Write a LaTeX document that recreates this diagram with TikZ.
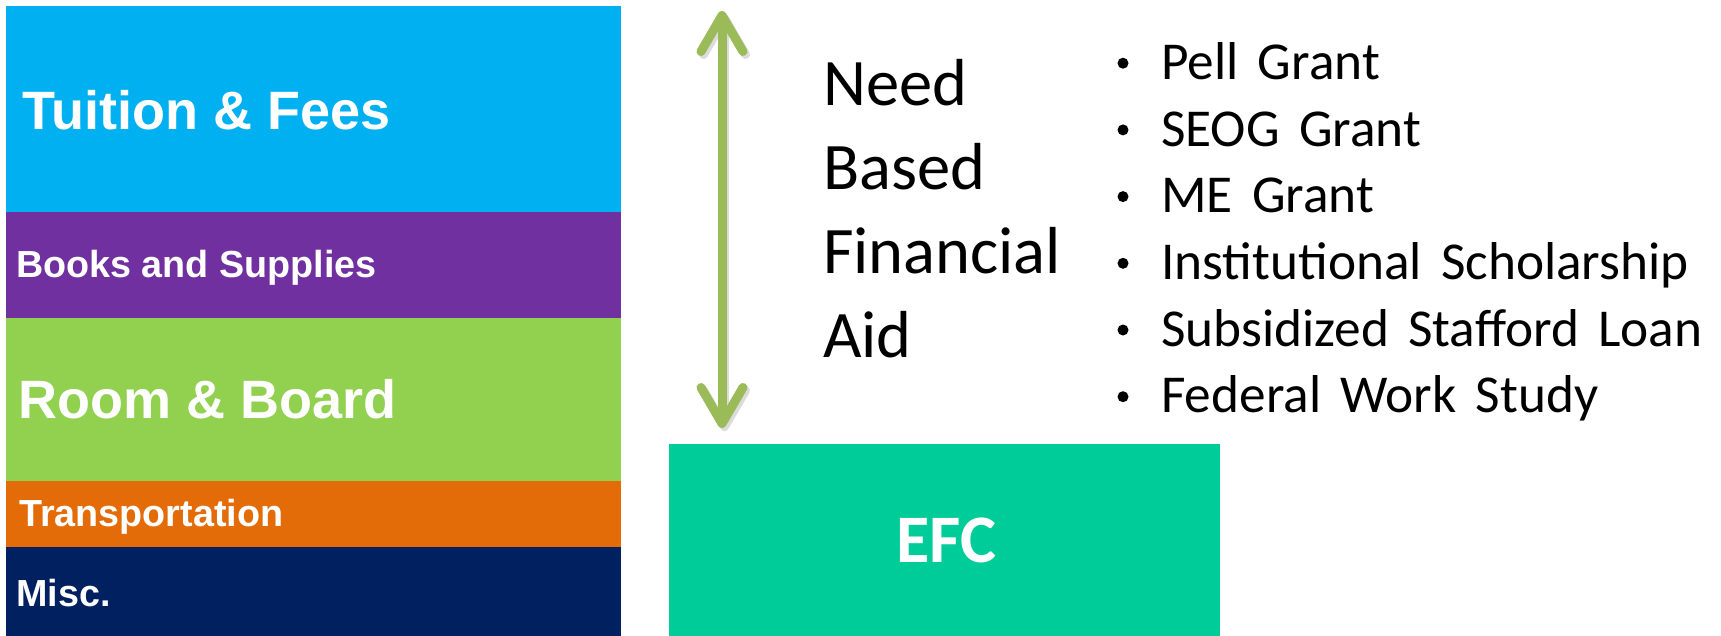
\documentclass[tikz,border=0pt]{standalone}
\usepackage{fontspec}
\setmainfont{Carlito}
\newfontfamily\bandfont{Liberation Sans}
\newfontfamily\itemfont[WordSpace=1.6]{Carlito}
\usetikzlibrary{arrows.meta}
\usetikzlibrary{positioning}
\definecolor{tuitionblue}{HTML}{00B0F0}
\definecolor{bookspurple}{HTML}{7030A0}
\definecolor{roomgreen}{HTML}{92D050}
\definecolor{transorange}{HTML}{E36C09}
\definecolor{miscnavy}{HTML}{002060}
\definecolor{efcgreen}{HTML}{00CC99}
\definecolor{aidolive}{HTML}{9BBB59}
\tikzstyle{band}=[rectangle, anchor=north west, inner sep=0pt, minimum width=614pt, line width=0.8pt]
\tikzstyle{bandtext}=[anchor=base west, inner sep=0pt, text=white]
\tikzstyle{bigband}=[font=\bandfont\bfseries\fontsize{54}{62}\selectfont]
\tikzstyle{smallband}=[font=\bandfont\bfseries\fontsize{37.7}{44}\selectfont]
\tikzstyle{aidtext}=[anchor=base west, inner sep=0pt, font=\fontsize{66.5}{80}\selectfont]
\tikzstyle{item}=[anchor=base west, inner sep=0pt, font=\itemfont\fontsize{53.3}{64}\selectfont]
\tikzstyle{dot}=[circle, fill=black, inner sep=0pt, minimum size=11pt]
\tikzstyle{aidarrow}=[line width=9pt, draw=aidolive,
  arrows={Straight Barb[length=36pt, width=42pt, round]-Straight Barb[length=36pt, width=42pt, round]}]

\begin{document}
\begin{tikzpicture}[x=1pt, y=-1pt]
        \useasboundingbox (0,0) rectangle (1721,635);

        % Cost of attendance
        \node[band, fill=tuitionblue, draw=tuitionblue, minimum height=205.5pt] (tuition) at (6,5.5) {};
        \node[band, fill=bookspurple, draw=bookspurple, minimum height=105pt] (books) at (tuition.south west) {};
        \node[band, fill=roomgreen, draw=roomgreen, minimum height=163pt] (room) at (books.south west) {};
        \node[band, fill=transorange, draw=transorange, minimum height=65pt] (transport) at (room.south west) {};
        \node[band, fill=miscnavy, draw=miscnavy, minimum height=92pt] (misc) at (transport.south west) {};

        \node[bandtext, bigband] (tuition_text) at (22,129) {Tuition \& Fees};
        \node[bandtext, smallband] (books_text) at (16,277) {Books and Supplies};
        \node[bandtext, bigband] (room_text) at (18,418) {Room \& Board};
        \node[bandtext, smallband] (transport_text) at (19,526) {Transportation};
        \node[bandtext, smallband] (misc_text) at (16,606) {Misc.};

        % Need arrow
        \coordinate (aid_top) at (722,11);
        \coordinate (aid_bottom) at (722,428);
        \draw[aidarrow, draw=black!35, opacity=0.4, transform canvas={xshift=2.5pt, yshift=-3pt}]
          (aid_top) -- (aid_bottom);
        \draw[aidarrow] (aid_top) -- (aid_bottom);

        % Need based aid
        \foreach \w [count=\i] in {Need, Based, Financial, Aid}
          \node[aidtext] (need_\i) at (823, 21+84*\i) {\w};

        \foreach \t [count=\i] in {Pell Grant, SEOG Grant, ME Grant,
            Institutional Scholarship, Subsidized Stafford Loan, Federal Work Study}
        {
          \node[item] (item_\i) at (1161, 12.7+66.7*\i) {\t};
          \node[dot] (dot_\i) at (1123, -3.5+66.7*\i) {};
        }

        % EFC
        \node[rectangle, fill=efcgreen, inner sep=0pt, anchor=north west,
          minimum width=551pt, minimum height=192pt, text=white,
          font=\bfseries\fontsize{68}{80}\selectfont] (efc) at (669,444) {\kern3pt EFC};
      \end{tikzpicture}
\end{document}
